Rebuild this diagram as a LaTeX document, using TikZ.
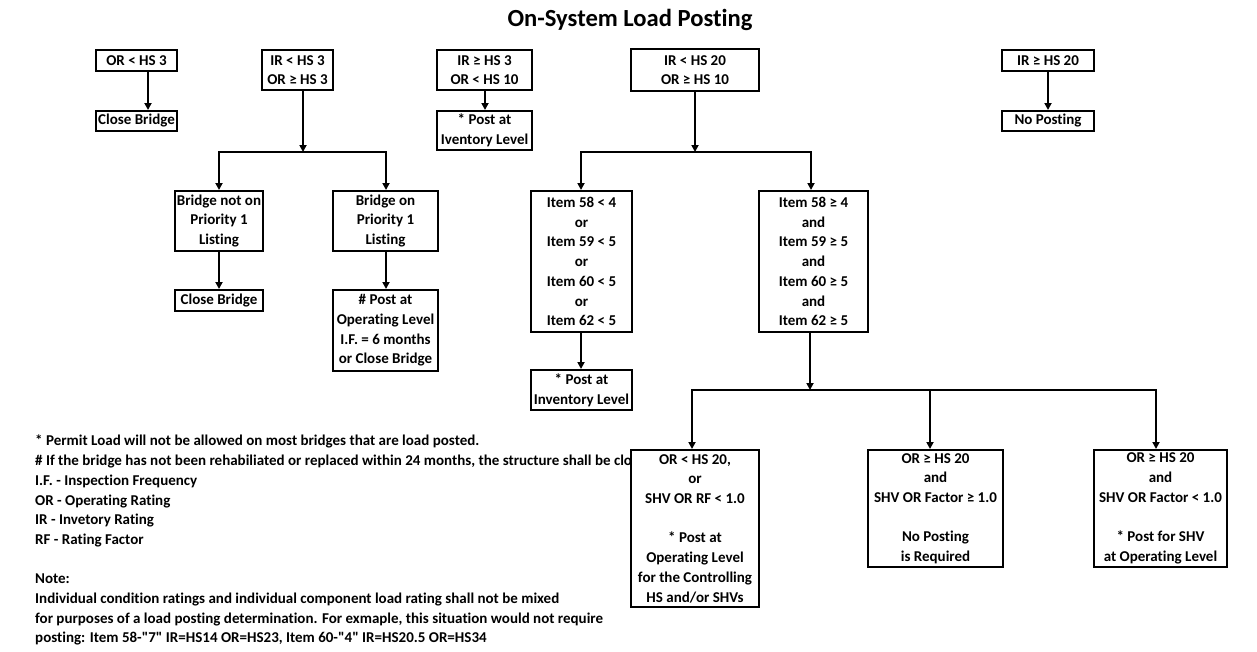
\documentclass[tikz,border=0pt]{standalone}
\usepackage{fontspec}
\setmainfont{Carlito}[Ligatures={NoCommon}]
\usetikzlibrary{arrows.meta}
\newcommand\bxfont{\fontsize{15}{19.7}\selectfont\bfseries}
\begin{document}
\begin{tikzpicture}[x=1pt,y=-1pt,
  bx/.style={draw, line width=2pt, fill=white, inner sep=0pt, align=center, font=\bxfont},
  arr/.style={line width=2pt, -{Triangle[length=7pt,width=7pt]}},
  lg/.style={anchor=base west, inner sep=0pt, font=\bxfont}]
\useasboundingbox[fill=white] (0,0) rectangle (1257,651);

\node[anchor=base, font=\fontsize{24.6}{28}\selectfont\bfseries, inner sep=0pt] (title) at (630,26) {On-System Load Posting};

% legend
\node[lg] (l1) at (35,445) {* Permit Load will not be allowed on most bridges that are load posted.};
\begin{scope}
\clip (0,448) rectangle (631,472);
\node[lg] (l2) at (35,465) {\# If the bridge has not been rehabiliated or replaced within 24 months, the structure shall be closed.};
\end{scope}
\node[lg] (l3) at (35,485) {I.F. - Inspection Frequency};
\node[lg] (l4) at (35,505) {OR - Operating Rating};
\node[lg] (l5) at (35,524) {IR - Invetory Rating};
\node[lg] (l6) at (35,544) {RF - Rating Factor};
\node[lg] (l7) at (35,583) {Note:};
\node[lg] (l8) at (35,603) {Individual condition ratings and individual component load rating shall not be mixed};
\node[lg] (l9) at (35,623) {for purposes of a load posting determination. For exmaple, this situation would not require};
\node[lg] (l10) at (35,642) {posting: Item 58-\textquotedbl 7\textquotedbl{} IR=HS14 OR=HS23, Item 60-\textquotedbl 4\textquotedbl{} IR=HS20.5 OR=HS34};

% boxes
\node[bx, minimum width=81pt, minimum height=21pt] (b1) at (136.5,60.5) {OR < HS 3};
\node[bx, minimum width=81pt, minimum height=20pt] (b2) at (136.5,121) {Close Bridge};
\node[bx, minimum width=71pt, minimum height=40pt] (b3) at (297.5,70) {IR < HS 3\\OR ≥ HS 3};
\node[bx, minimum width=95pt, minimum height=40pt] (b4) at (484.5,70) {IR ≥ HS 3\\OR < HS 10};
\node[bx, minimum width=95pt, minimum height=39pt] (b5) at (484.5,130.5) {* Post at\\Iventory Level};
\node[bx, minimum width=128pt, minimum height=42pt] (b6) at (695,70) {IR < HS 20\\OR ≥ HS 10};
\node[bx, minimum width=92pt, minimum height=21pt] (b7) at (1048,60.5) {IR ≥ HS 20};
\node[bx, minimum width=92pt, minimum height=20pt] (b8) at (1048,121) {No Posting};
\node[bx, minimum width=88pt, minimum height=60pt] (b9) at (219,221) {Bridge not on\\Priority 1\\Listing};
\node[bx, minimum width=105pt, minimum height=60pt] (b10) at (385.5,221) {Bridge on\\Priority 1\\Listing};
\node[bx, minimum width=88pt, minimum height=21pt] (b11) at (219,300.5) {Close Bridge};
\node[bx, minimum width=105pt, minimum height=81pt] (b12) at (385.5,330.5) {\# Post at\\Operating Level\\I.F. = 6 months\\or Close Bridge};
\node[bx, minimum width=101pt, minimum height=141pt] (b13) at (581.5,261.5) {Item 58 < 4\\or\\Item 59 < 5\\or\\Item 60 < 5\\or\\Item 62 < 5};
\node[bx, minimum width=109pt, minimum height=141pt] (b14) at (813.5,261.5) {Item 58 ≥ 4\\and\\Item 59 ≥ 5\\and\\Item 60 ≥ 5\\and\\Item 62 ≥ 5};
\node[bx, minimum width=101pt, minimum height=40pt] (b15) at (581.5,390) {* Post at\\Inventory Level};
\node[bx, minimum width=128pt, minimum height=157pt] (b16) at (695,528.5) {OR < HS 20,\\or\\SHV OR RF < 1.0\\[19.7pt]* Post at\\Operating Level\\for the Controlling\\HS and/or SHVs};
\node[bx, minimum width=135pt, minimum height=117pt] (b17) at (935.5,508.5) {OR ≥ HS 20\\and\\SHV OR Factor ≥ 1.0\\[19.7pt]No Posting\\is Required};
\node[bx, minimum width=133pt, minimum height=117pt] (b18) at (1160.5,508.5) {OR ≥ HS 20\\and\\SHV OR Factor < 1.0\\[19.7pt]* Post for SHV\\at Operating Level};

% junctions
\coordinate (j1) at (303,152);
\coordinate (j2) at (695,152);
\coordinate (j3) at (810,390);

% connectors
\draw[arr] ([xshift=11.5pt]b1.south) -- ([xshift=11.5pt]b2.north);
\draw[arr] (b3.south -| j1) -- (j1);
\draw[arr] (j1) -| (b9.north);
\draw[arr] (j1) -| ([xshift=0.5pt]b10.north);
\draw[arr] ([xshift=0.5pt]b4.south) -- ([xshift=0.5pt]b5.north);
\draw[arr] (b6.south -| j2) -- (j2);
\draw[arr] (j2) -| ([xshift=-0.5pt]b13.north);
\draw[arr] (j2) -| ([xshift=-2.5pt]b14.north);
\draw[arr] (b7.south) -- (b8.north);
\draw[arr] (b9.south) -- (b11.north);
\draw[arr] ([xshift=0.5pt]b10.south) -- ([xshift=0.5pt]b12.north);
\draw[arr] ([xshift=-0.5pt]b13.south) -- ([xshift=-0.5pt]b15.north);
\draw[arr] (b14.south -| j3) -- (j3);
\draw[arr] (j3) -| ([xshift=-3pt]b16.north);
\draw[arr] (j3) -| ([xshift=-5.5pt]b17.north);
\draw[arr] (j3) -| ([xshift=-4.5pt]b18.north);
\end{tikzpicture}
\end{document}
